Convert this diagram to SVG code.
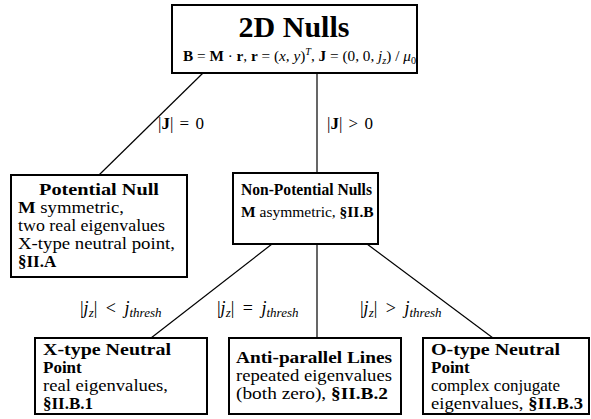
<svg xmlns="http://www.w3.org/2000/svg" width="591" height="419" viewBox="0 0 591 419">
<style>
rect.box{fill:#fff;stroke:#000;stroke-width:2}
.conn line{stroke:#000;stroke-width:1.2}
text{font-family:"Liberation Serif","Times New Roman",serif;fill:#000;font-size:17px}
.h{font-weight:bold;font-size:17px}
.b{font-weight:bold}
.i{font-style:italic}
.lab{font-size:18px}
.s{font-size:13px;font-style:italic}
</style>
<g class="conn" id="connectors">
<line x1="203" y1="73" x2="99" y2="175"/>
<line x1="317" y1="73" x2="317" y2="173"/>
<line x1="272" y1="244" x2="151" y2="338"/>
<line x1="317" y1="244" x2="317" y2="338"/>
<line x1="367" y1="244" x2="493" y2="338"/>
<text x="158" y="129">|<tspan class="b">J</tspan>|<tspan dx="2"> = </tspan><tspan dx="2">0</tspan></text>
<text x="327" y="129">|<tspan class="b">J</tspan>|<tspan dx="2"> &gt; </tspan><tspan dx="2">0</tspan></text>
<text x="80" y="314" class="lab">|<tspan class="i">j</tspan><tspan class="s" dy="3">z</tspan><tspan dy="-3">|</tspan><tspan dx="4"> &lt; </tspan><tspan class="i" dx="4">j</tspan><tspan class="s" dy="3">thresh</tspan></text>
<text x="217" y="314" class="lab">|<tspan class="i">j</tspan><tspan class="s" dy="3">z</tspan><tspan dy="-3">|</tspan><tspan dx="4"> = </tspan><tspan class="i" dx="4">j</tspan><tspan class="s" dy="3">thresh</tspan></text>
<text x="360" y="314" class="lab">|<tspan class="i">j</tspan><tspan class="s" dy="3">z</tspan><tspan dy="-3">|</tspan><tspan dx="4"> &gt; </tspan><tspan class="i" dx="4">j</tspan><tspan class="s" dy="3">thresh</tspan></text>
</g>
<g id="top">
<rect class="box" x="172" y="5" width="245" height="68"/>
<text x="294" y="37" text-anchor="middle" style="font-weight:bold;font-size:30px">2D Nulls</text>
<text x="183" y="61" textLength="233" lengthAdjust="spacingAndGlyphs" style="font-size:15px"><tspan class="b">B</tspan> = <tspan class="b">M</tspan> · <tspan class="b">r</tspan>, <tspan class="b">r</tspan> = (<tspan class="i">x, y</tspan>)<tspan dy="-6" style="font-size:10px" class="i">T</tspan><tspan dy="6">,  </tspan><tspan class="b">J</tspan> = (0, 0, <tspan class="i">j</tspan><tspan dy="3" style="font-size:10px" class="i">z</tspan><tspan dy="-3">) / </tspan><tspan class="i">μ</tspan><tspan dy="3" style="font-size:10px">0</tspan></text>
</g>
<g id="potential">
<rect class="box" x="11" y="175" width="176" height="102"/>
<text x="39" y="195" class="h" textLength="120" lengthAdjust="spacingAndGlyphs">Potential Null</text>
<text x="18" y="213" textLength="106" lengthAdjust="spacingAndGlyphs"><tspan class="b">M</tspan> symmetric,</text>
<text x="18" y="231" textLength="147" lengthAdjust="spacingAndGlyphs">two real eigenvalues</text>
<text x="18" y="249" textLength="157" lengthAdjust="spacingAndGlyphs">X-type neutral point,</text>
<text x="18" y="267" class="b">§II.A</text>
</g>
<g id="nonpotential">
<rect class="box" x="233" y="173" width="145" height="71"/>
<text x="241" y="195" class="h" textLength="131" lengthAdjust="spacingAndGlyphs">Non-Potential Nulls</text>
<text x="241" y="217" style="font-size:15.5px"><tspan class="b">M</tspan> asymmetric, <tspan class="b">§II.B</tspan></text>
</g>
<g id="xtype">
<rect class="box" x="35" y="338" width="172" height="76"/>
<text x="43" y="355" class="h" textLength="128" lengthAdjust="spacingAndGlyphs">X-type Neutral</text>
<text x="43" y="373" class="h">Point</text>
<text x="43" y="391" textLength="125" lengthAdjust="spacingAndGlyphs">real eigenvalues,</text>
<text x="43" y="409" class="b">§II.B.1</text>
</g>
<g id="antiparallel">
<rect class="box" x="229" y="338" width="172" height="76"/>
<text x="236" y="363" class="h" textLength="156" lengthAdjust="spacingAndGlyphs">Anti-parallel Lines</text>
<text x="236" y="381" textLength="156" lengthAdjust="spacingAndGlyphs">repeated eigenvalues</text>
<text x="236" y="399" textLength="152" lengthAdjust="spacingAndGlyphs">(both zero), <tspan class="b">§II.B.2</tspan></text>
</g>
<g id="otype">
<rect class="box" x="423" y="338" width="166" height="76"/>
<text x="431" y="355" class="h" textLength="129" lengthAdjust="spacingAndGlyphs">O-type Neutral</text>
<text x="431" y="373" class="h">Point</text>
<text x="431" y="391" textLength="129" lengthAdjust="spacingAndGlyphs">complex conjugate</text>
<text x="431" y="409" textLength="152" lengthAdjust="spacingAndGlyphs">eigenvalues, <tspan class="b">§II.B.3</tspan></text>
</g>
</svg>
